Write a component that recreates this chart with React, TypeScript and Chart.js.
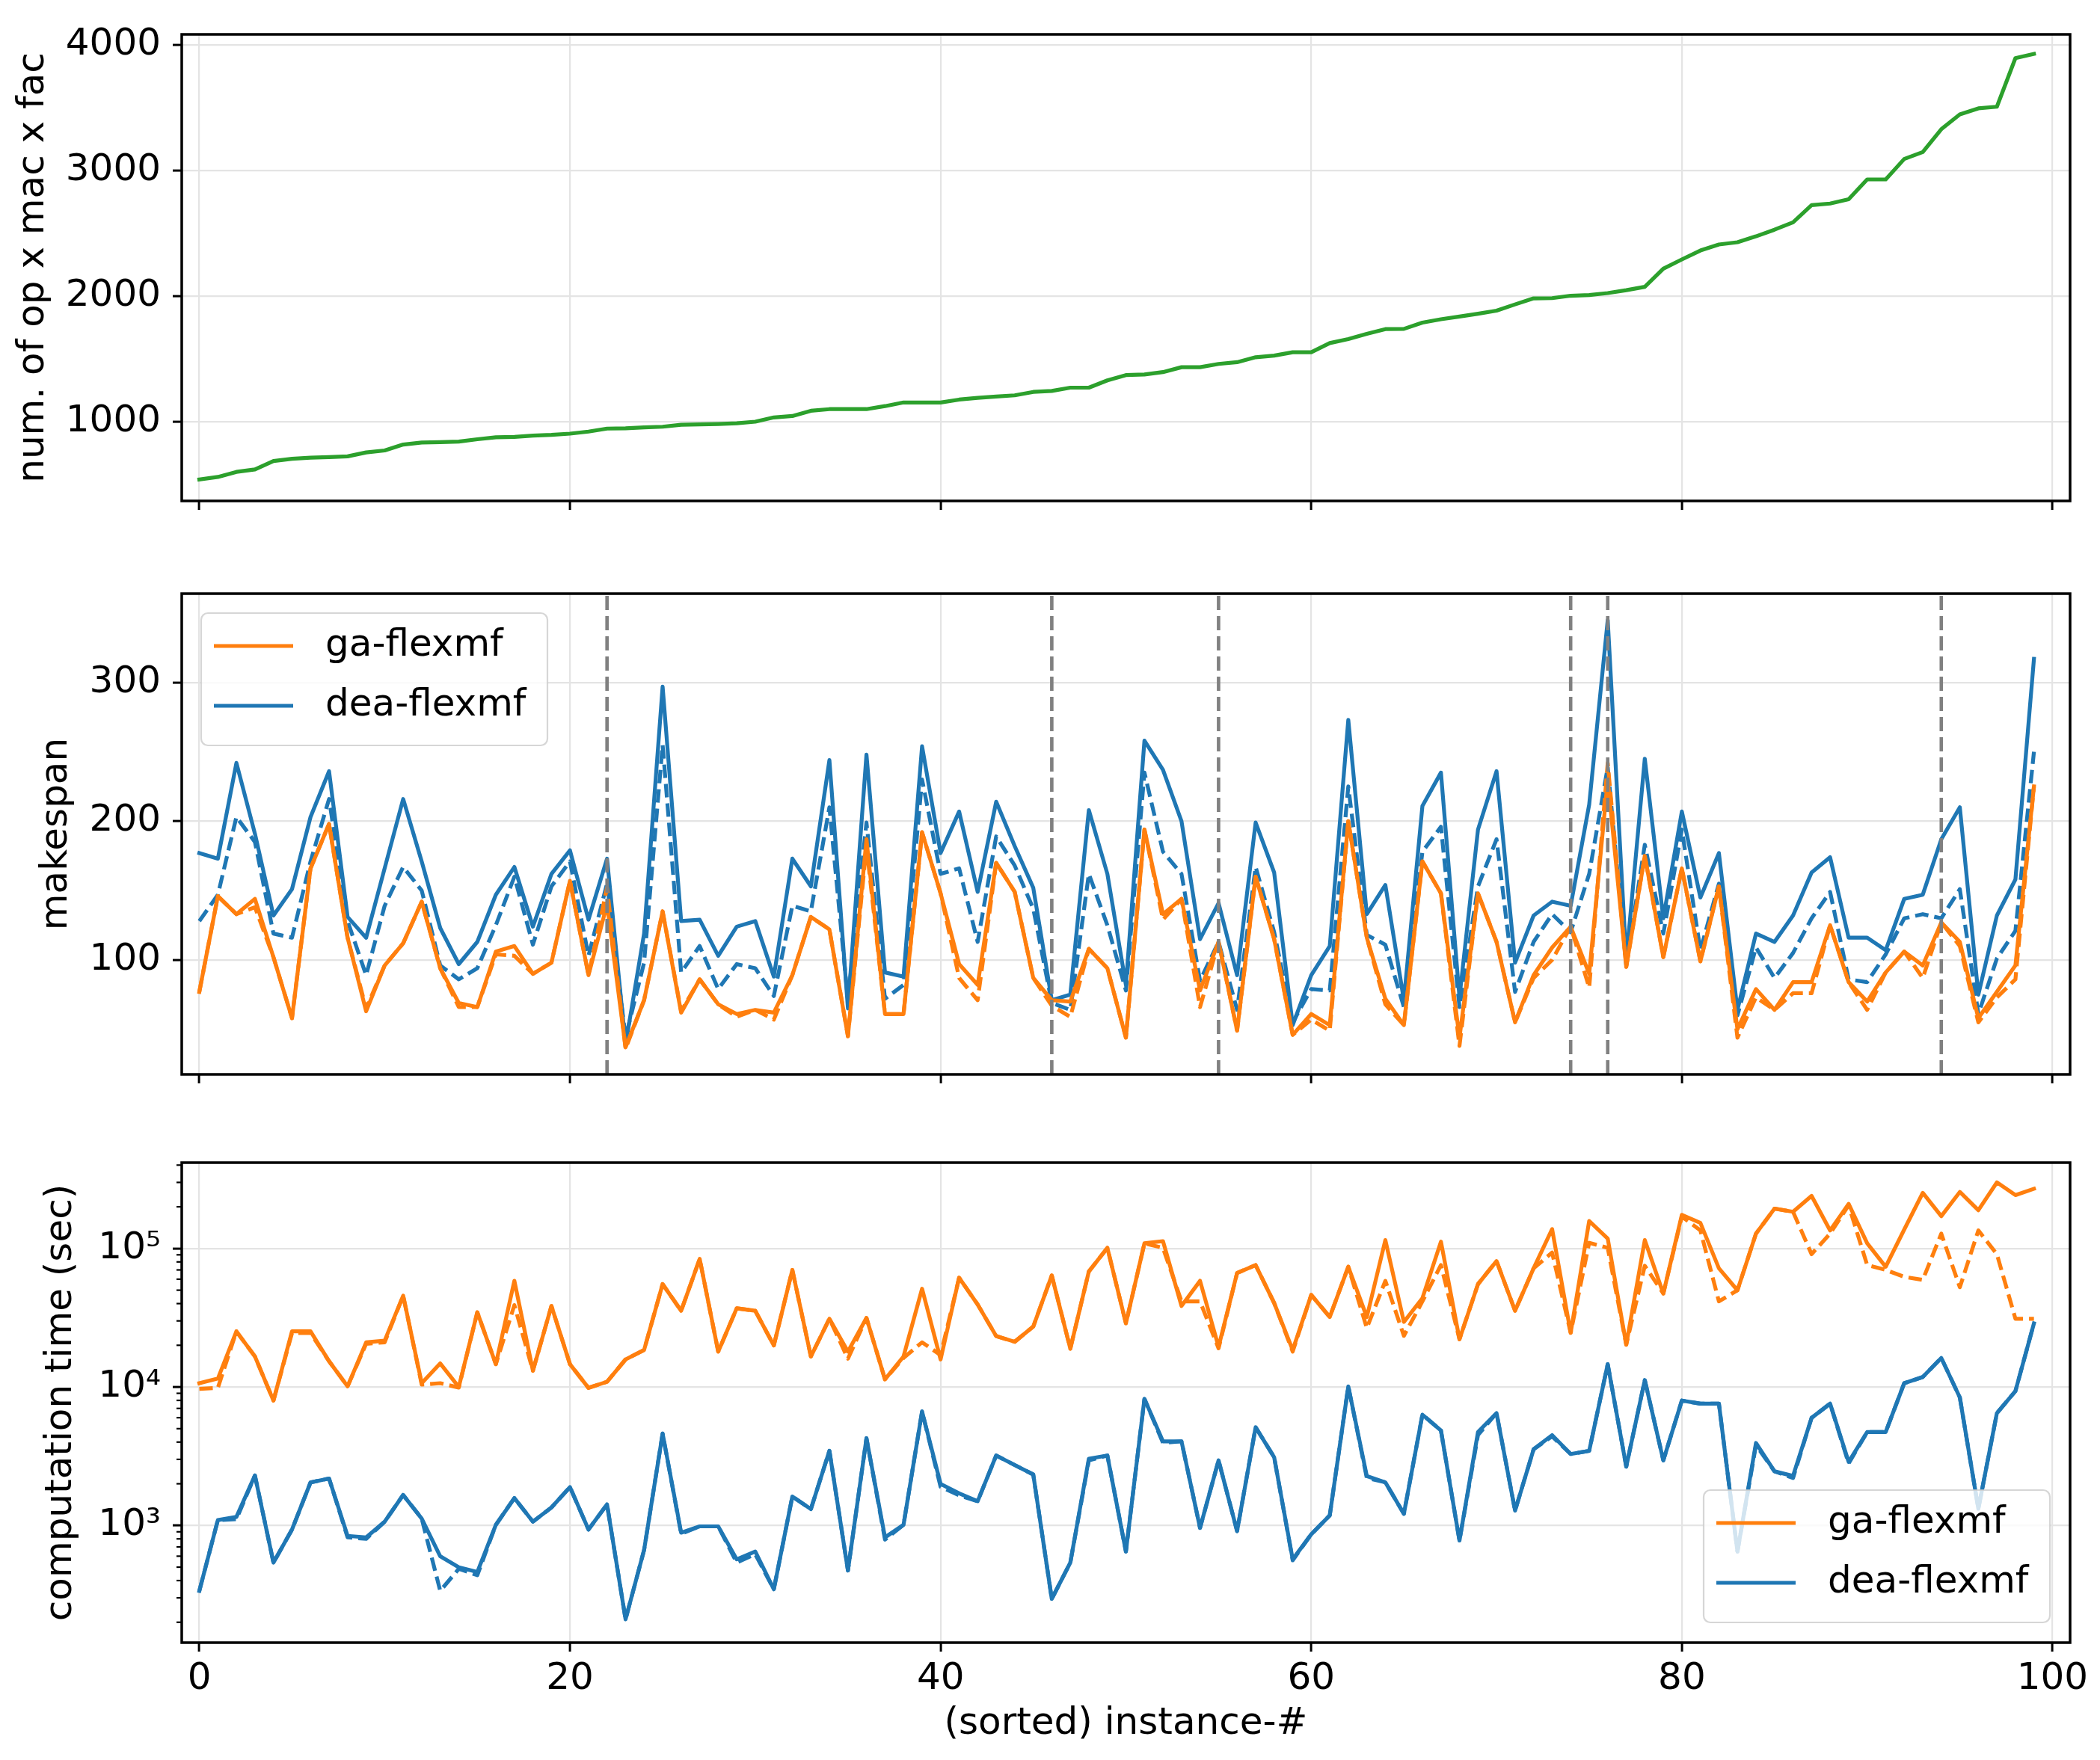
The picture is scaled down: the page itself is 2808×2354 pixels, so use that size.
import { useEffect, useRef } from "react";
import { Chart, registerables } from "chart.js";

Chart.register(...registerables);

// ---- values ----
const instanceTicks = [0, 20, 40, 60, 80, 100];
const sizeTicks = [1000, 2000, 3000, 4000];
const makespanTicks = [100, 200, 300];
const timeTicks = [1e3, 1e4, 1e5];
const timeTickLabels = ["10³", "10⁴", "10⁵"];
const markedInstances = [22, 46, 55, 74, 76, 94];
const seriesNames = ["ga-flexmf", "dea-flexmf"];

const problemSize = [
  540, 560, 600, 620, 687, 705, 713, 718, 724, 755,
  771, 818, 834, 837, 842, 860, 876, 879, 889, 895,
  905, 921, 945, 947, 955, 960, 976, 979, 982, 987,
  1000, 1034, 1045, 1087, 1100, 1100, 1100, 1124, 1153, 1153,
  1153, 1176, 1190, 1200, 1210, 1237, 1245, 1271, 1271, 1329,
  1371, 1376, 1395, 1434, 1434, 1460, 1474, 1513, 1526, 1553,
  1553, 1626, 1658, 1700, 1737, 1739, 1789, 1816, 1837, 1860,
  1884, 1934, 1982, 1984, 2003, 2008, 2024, 2047, 2074, 2218,
  2292, 2363, 2411, 2429, 2476, 2529, 2587, 2724, 2737, 2771,
  2929, 2929, 3092, 3147, 3329, 3447, 3495, 3508, 3895, 3929,
];

const gaMakespan = [
  77, 146, 133, 144, 102, 58, 166, 198, 116, 63,
  96, 112, 142, 94, 69, 66, 106, 110, 90, 98,
  157, 89, 140, 37, 71, 135, 62, 86, 68, 61,
  64, 62, 89, 131, 122, 45, 187, 61, 61, 192,
  148, 97, 82, 170, 149, 87, 71, 70, 108, 94,
  44, 194, 133, 144, 78, 113, 49, 160, 115, 46,
  61, 53, 200, 116, 72, 53, 171, 148, 44, 148,
  113, 55, 89, 109, 124, 90, 230, 95, 175, 102,
  166, 99, 153, 50, 79, 64, 84, 84, 125, 84,
  70, 91, 106, 96, 127, 113, 58, 77, 96, 225,
];
const gaMakespanAlt = [
  77, 146, 133, 138, 102, 58, 166, 198, 116, 65,
  96, 112, 142, 94, 66, 66, 104, 103, 90, 98,
  157, 89, 152, 36, 71, 135, 63, 86, 68, 59,
  64, 57, 89, 131, 122, 45, 182, 61, 61, 192,
  148, 87, 71, 170, 149, 87, 67, 59, 108, 94,
  44, 194, 129, 144, 66, 113, 49, 160, 115, 46,
  57, 49, 200, 116, 68, 53, 171, 148, 38, 148,
  113, 55, 87, 100, 124, 80, 242, 95, 175, 102,
  166, 99, 153, 44, 73, 64, 76, 76, 125, 84,
  64, 91, 106, 87, 127, 110, 55, 73, 86, 225,
];
const deaMakespan = [
  177, 173, 242, 191, 132, 151, 203, 236, 131, 116,
  166, 216, 171, 123, 97, 113, 147, 167, 124, 162,
  179, 129, 173, 39, 119, 297, 128, 129, 103, 124,
  128, 88, 173, 153, 244, 65, 248, 91, 88, 254,
  177, 207, 149, 214, 182, 152, 71, 75, 208, 162,
  82, 258, 237, 200, 115, 141, 89, 199, 163, 53,
  89, 110, 273, 133, 154, 71, 211, 235, 73, 194,
  236, 98, 132, 142, 139, 212, 345, 100, 245, 130,
  207, 145, 177, 64, 119, 113, 132, 163, 174, 116,
  116, 107, 144, 147, 187, 210, 75, 132, 158, 317,
];
const deaMakespanAlt = [
  128, 147, 203, 185, 119, 116, 171, 216, 128, 89,
  139, 167, 150, 96, 86, 94, 125, 160, 111, 153,
  171, 103, 155, 44, 98, 255, 91, 110, 79, 97,
  94, 74, 139, 135, 210, 71, 199, 72, 82, 230,
  162, 166, 113, 189, 168, 137, 69, 64, 162, 125,
  78, 235, 178, 162, 85, 113, 64, 167, 120, 55,
  79, 78, 225, 118, 111, 66, 178, 196, 66, 153,
  187, 77, 113, 133, 120, 162, 239, 96, 183, 119,
  194, 107, 155, 60, 109, 87, 105, 130, 149, 86,
  84, 104, 130, 133, 130, 151, 61, 101, 121, 250,
];

const gaTime = [
  10650, 11500, 25200, 16600, 7980, 25200, 25200, 15350, 10100, 21000,
  21600, 45600, 10650, 14800, 10000, 34600, 14600, 58400, 13100, 38400,
  14600, 9850, 10900, 15800, 18500, 55300, 35500, 84100, 18000, 37000,
  35500, 19950, 70000, 16600, 31100, 18000, 31500, 11350, 16600, 51200,
  15800, 61500, 39400, 23300, 21200, 27300, 63800, 18900, 68200, 101000,
  28800, 109000, 113000, 38400, 58400, 19500, 66600, 75900, 40400, 18500,
  46200, 32000, 73800, 32000, 115000, 29500, 43800, 112000, 22100, 55300,
  81100, 35500, 71900, 138000, 24600, 158000, 118000, 20200, 115000, 47300,
  175000, 153000, 71900, 49900, 128000, 194000, 184000, 240000, 135000, 210000,
  109000, 73800, 137000, 252000, 171000, 256000, 189000, 300000, 243000, 270000,
];
const gaTimeAlt = [
  9680, 9850, 25200, 16600, 7980, 24500, 24500, 15350, 10100, 20500,
  21000, 45600, 10400, 10650, 9900, 34600, 14600, 39000, 13100, 38400,
  14600, 9850, 10900, 15800, 18500, 55300, 35500, 84100, 18000, 37000,
  35500, 19950, 70000, 16600, 31100, 16000, 31500, 11350, 16200, 21000,
  17000, 61500, 39400, 23300, 21200, 27300, 63800, 18900, 68200, 101000,
  28800, 109000, 101000, 41500, 41500, 19000, 66600, 75900, 40400, 18000,
  46200, 32000, 73800, 26600, 58400, 23400, 41500, 75900, 22100, 55300,
  81100, 35500, 71900, 93400, 24600, 110000, 101000, 20200, 75000, 47300,
  170000, 135000, 41500, 49900, 128000, 194000, 184000, 91000, 128000, 205000,
  75900, 70000, 62400, 59300, 128000, 52500, 135000, 91000, 31100, 31100,
];
const deaTime = [
  337, 1094, 1152, 2296, 539, 934, 2046, 2181, 841, 820,
  1065, 1660, 1122, 599, 499, 461, 1010, 1577, 1065, 1348,
  1892, 934, 1420, 210, 665, 4610, 887, 985, 985, 569,
  648, 346, 1618, 1313, 3459, 473, 4265, 820, 1010, 6650,
  1995, 1706, 1496, 3200, 2730, 2335, 295, 539, 3035, 3200,
  648, 8200, 4050, 4050, 960, 2950, 910, 5120, 3110, 569,
  863, 1182, 10100, 2274, 2048, 1214, 6310, 4855, 778, 4730,
  6470, 1280, 3550, 4490, 3280, 3460, 14600, 2660, 11200, 2950,
  7980, 7580, 7580, 648, 3940, 2460, 2276, 5980, 7580, 2877,
  4730, 4730, 10650, 11800, 16200, 8410, 1320, 6470, 9330, 28800,
];
const deaTimeAlt = [
  337, 1094, 1110, 2296, 539, 934, 2046, 2181, 820, 800,
  1065, 1660, 1122, 337, 486, 437, 1010, 1577, 1065, 1348,
  1892, 934, 1420, 210, 665, 4610, 870, 985, 985, 540,
  620, 346, 1618, 1313, 3459, 473, 4265, 790, 1010, 6650,
  1900, 1650, 1496, 3200, 2730, 2335, 295, 539, 2950, 3200,
  648, 8200, 3950, 4050, 960, 2950, 910, 5120, 3110, 560,
  863, 1182, 10100, 2200, 2048, 1214, 6310, 4855, 778, 4500,
  6470, 1280, 3550, 4400, 3280, 3460, 14600, 2660, 11200, 2950,
  7980, 7580, 7580, 648, 3800, 2460, 2200, 5980, 7580, 2800,
  4730, 4730, 10650, 11800, 16200, 8410, 1320, 6470, 9330, 28800,
];

// ---- look ----
const FONT = "'DejaVu Sans', sans-serif";
const ORANGE = "#ff7f0e";
const BLUE = "#1f77b4";
const GREEN = "#2ca02c";
const GRID = "#e4e4e4";
const seriesColors = [ORANGE, BLUE];
const W = 2808;
const X_MIN = -0.95;
const X_MAX = 100.95;
const AXIS_W = 243;
const RIGHT_PAD = 40;
const LINE_W = 5.2;

Chart.defaults.font.family = FONT;

const big = { family: FONT, size: 50 };

const lineSet = (values: number[], color: string, dashed = false) => ({
  data: values.map((y, x) => ({ x, y })),
  borderColor: color,
  borderWidth: LINE_W,
  borderDash: dashed ? [18, 8] : [],
  borderJoinStyle: "round",
  borderCapStyle: dashed ? "butt" : "square",
  pointRadius: 0,
  fill: false,
  tension: 0,
});

const xScale = (height: number, labelled: boolean) => ({
  type: "linear",
  min: X_MIN,
  max: X_MAX,
  bounds: "data",
  afterBuildTicks: (s: any) => {
    s.ticks = instanceTicks.map((value) => ({ value }));
  },
  afterFit: (s: any) => {
    s.height = height;
  },
  grid: { color: GRID, lineWidth: 2.2, tickColor: "#000", tickLength: 12, tickWidth: 3 },
  border: { display: false },
  ticks: {
    display: labelled,
    color: "#000",
    font: big,
    padding: 7,
    maxRotation: 0,
    autoSkip: false,
    callback: (v: any) => String(v),
  },
  title: {
    display: labelled,
    text: "(sorted) instance-#",
    color: "#000",
    font: big,
    padding: { top: 0, bottom: 18 },
  },
});

const yScale = (o: {
  type: string;
  min: number;
  max: number;
  ticks: number[];
  label: (v: number) => string;
  title: string;
  titlePad: number;
}) => ({
  type: o.type,
  min: o.min,
  max: o.max,
  bounds: "data",
  afterBuildTicks: (s: any) => {
    s.ticks = o.ticks.map((value) => ({ value }));
  },
  afterFit: (s: any) => {
    s.width = AXIS_W;
  },
  grid: { color: GRID, lineWidth: 2.2, tickColor: "#000", tickLength: 12, tickWidth: 3 },
  border: { display: false },
  ticks: {
    color: "#000",
    font: big,
    padding: 16,
    autoSkip: false,
    callback: (v: any) => o.label(Number(v)),
  },
  title: {
    display: true,
    text: o.title,
    color: "#000",
    font: big,
    padding: { top: o.titlePad, bottom: 0 },
  },
});

const frame = {
  id: "frame",
  afterDraw(chart: any) {
    const { ctx, chartArea } = chart;
    ctx.save();
    ctx.strokeStyle = "#000";
    ctx.lineWidth = 3.5;
    ctx.setLineDash([]);
    ctx.strokeRect(chartArea.left, chartArea.top, chartArea.right - chartArea.left, chartArea.bottom - chartArea.top);
    ctx.restore();
  },
};

const markers = {
  id: "markers",
  afterDatasetsDraw(chart: any) {
    const { ctx, chartArea } = chart;
    const x = chart.scales.x;
    ctx.save();
    ctx.strokeStyle = "#808080";
    ctx.lineWidth = 4.6;
    ctx.setLineDash([19, 8]);
    markedInstances.forEach((m) => {
      const px = x.getPixelForValue(m);
      ctx.beginPath();
      ctx.moveTo(px, chartArea.bottom);
      ctx.lineTo(px, chartArea.top);
      ctx.stroke();
    });
    ctx.restore();
  },
};

const minorTicks = {
  id: "minorTicks",
  afterDraw(chart: any) {
    const { ctx, chartArea } = chart;
    const y = chart.scales.y;
    ctx.save();
    ctx.strokeStyle = "#000";
    ctx.lineWidth = 2.2;
    for (let e = 2; e <= 5; e++) {
      for (let m = 2; m <= 9; m++) {
        const v = m * Math.pow(10, e);
        if (v < y.min || v > y.max) continue;
        const py = y.getPixelForValue(v);
        ctx.beginPath();
        ctx.moveTo(chartArea.left - 7, py);
        ctx.lineTo(chartArea.left, py);
        ctx.stroke();
      }
    }
    ctx.restore();
  },
};

const legendBox = (corner: "topLeft" | "bottomRight") => ({
  id: "legendBox",
  afterDatasetsDraw(chart: any) {
    const { ctx, chartArea } = chart;
    const w = 463;
    const h = 177;
    const x = corner === "topLeft" ? chartArea.left + 26 : chartArea.right - 27 - w;
    const y = corner === "topLeft" ? chartArea.top + 26 : chartArea.bottom - 27 - h;
    ctx.save();
    ctx.setLineDash([]);
    ctx.beginPath();
    ctx.roundRect(x, y, w, h, 9);
    ctx.fillStyle = "rgba(255,255,255,0.8)";
    ctx.fill();
    ctx.strokeStyle = "rgba(204,204,204,0.8)";
    ctx.lineWidth = 2.2;
    ctx.stroke();
    seriesNames.forEach((name, k) => {
      const cy = y + 44 + k * 80;
      ctx.beginPath();
      ctx.moveTo(x + 17, cy);
      ctx.lineTo(x + 123, cy);
      ctx.strokeStyle = seriesColors[k];
      ctx.lineWidth = LINE_W;
      ctx.stroke();
      ctx.fillStyle = "#000";
      ctx.font = `50px ${FONT}`;
      ctx.textAlign = "left";
      ctx.textBaseline = "middle";
      ctx.fillText(name, x + 166, cy);
    });
    ctx.restore();
  },
});

const baseOptions = (top: number, scales: any) => ({
  responsive: false,
  animation: false,
  devicePixelRatio: 1,
  events: [],
  parsing: false,
  layout: { padding: { left: 0, right: RIGHT_PAD, top, bottom: 0 } },
  plugins: { legend: { display: false }, tooltip: { enabled: false } },
  scales,
});

// canvas bands in page pixels, with the plot area inside each
const band1 = { top: 0, height: 740, areaTop: 36, areaBottom: 670 };
const band2 = { top: 740, height: 760, areaTop: 794, areaBottom: 1437 };
const band3 = { top: 1500, height: 854, areaTop: 1555, areaBottom: 2197 };

const xHeight = (b: typeof band1) => b.top + b.height - b.areaBottom;

export default function App() {
  const sizeRef = useRef<HTMLCanvasElement>(null);
  const spanRef = useRef<HTMLCanvasElement>(null);
  const timeRef = useRef<HTMLCanvasElement>(null);

  useEffect(() => {
    document.body.style.margin = "0";
    const charts: Chart[] = [];

    if (sizeRef.current) {
      charts.push(
        new Chart(sizeRef.current, {
          type: "line",
          data: { datasets: [lineSet(problemSize, GREEN)] as any },
          options: baseOptions(band1.areaTop - band1.top, {
            x: xScale(xHeight(band1), false),
            y: yScale({
              type: "linear",
              min: 369,
              max: 4084,
              ticks: sizeTicks,
              label: (v) => String(v),
              title: "num. of op x mac x fac",
              titlePad: 15,
            }),
          }) as any,
          plugins: [frame],
        })
      );
    }

    if (spanRef.current) {
      charts.push(
        new Chart(spanRef.current, {
          type: "line",
          data: {
            datasets: [
              lineSet(gaMakespan, ORANGE),
              lineSet(gaMakespanAlt, ORANGE, true),
              lineSet(deaMakespan, BLUE),
              lineSet(deaMakespanAlt, BLUE, true),
            ] as any,
          },
          options: baseOptions(band2.areaTop - band2.top, {
            x: xScale(xHeight(band2), false),
            y: yScale({
              type: "linear",
              min: 17.5,
              max: 364,
              ticks: makespanTicks,
              label: (v) => String(v),
              title: "makespan",
              titlePad: 46,
            }),
          }) as any,
          plugins: [markers, legendBox("topLeft"), frame],
        })
      );
    }

    if (timeRef.current) {
      charts.push(
        new Chart(timeRef.current, {
          type: "line",
          data: {
            datasets: [
              lineSet(gaTime, ORANGE),
              lineSet(gaTimeAlt, ORANGE, true),
              lineSet(deaTime, BLUE),
              lineSet(deaTimeAlt, BLUE, true),
            ] as any,
          },
          options: baseOptions(band3.areaTop - band3.top, {
            x: xScale(xHeight(band3), true),
            y: yScale({
              type: "logarithmic",
              min: Math.pow(10, 2.154),
              max: Math.pow(10, 5.62),
              ticks: timeTicks,
              label: (v) => {
                const k = timeTicks.findIndex((t) => Math.abs(t - v) < 1e-6 * t);
                return k >= 0 ? timeTickLabels[k] : "";
              },
              title: "computation time (sec)",
              titlePad: 52,
            }),
          }) as any,
          plugins: [legendBox("bottomRight"), minorTicks, frame],
        })
      );
    }

    return () => {
      charts.forEach((c) => c.destroy());
    };
  }, []);

  const place = (b: typeof band1) => ({
    position: "absolute" as const,
    left: 0,
    top: b.top,
    width: W,
    height: b.height,
  });

  return (
    <div style={{ position: "relative", width: W, height: 2354, background: "#fff" }}>
      <canvas ref={sizeRef} width={W} height={band1.height} style={place(band1)} />
      <canvas ref={spanRef} width={W} height={band2.height} style={place(band2)} />
      <canvas ref={timeRef} width={W} height={band3.height} style={place(band3)} />
    </div>
  );
}
